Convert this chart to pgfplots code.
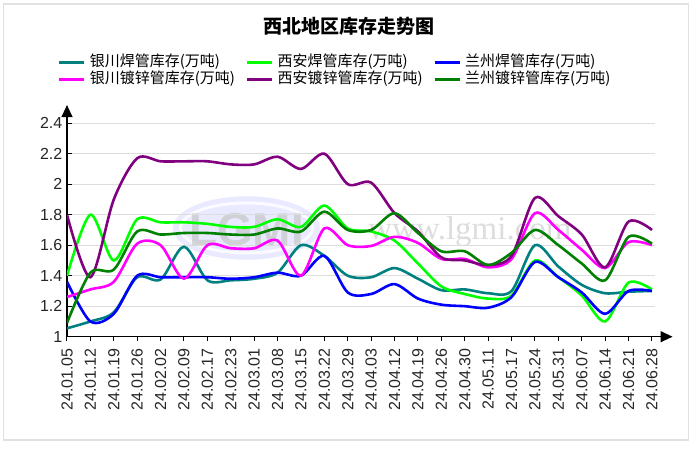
\documentclass[border=0pt]{standalone}
\usepackage{fontspec}
\setmainfont{Liberation Sans}
\newfontfamily\cjk{Noto Sans CJK SC}
\newfontfamily\serifwm{Liberation Serif}
\usepackage{pgfplots}
\usepackage{pgfplotstable}
\pgfplotsset{compat=1.18}
\usetikzlibrary{arrows.meta}

\definecolor{cTeal}{RGB}{0,128,128}
\definecolor{cLime}{RGB}{0,255,0}
\definecolor{cBlue}{RGB}{0,0,255}
\definecolor{cMag}{RGB}{255,0,255}
\definecolor{cPur}{RGB}{128,0,128}
\definecolor{cDkg}{RGB}{0,128,0}
\definecolor{cGrid}{RGB}{221,221,221}
\definecolor{cBorder}{RGB}{225,225,225}

\pgfplotstableread{
i   yct    xat    lzt    ycd    xad    lzd
0   1.055  1.40   1.36   1.26   1.80   1.09
1   1.10   1.80   1.10   1.31   1.39   1.42
2   1.16   1.50   1.15   1.36   1.90   1.44
3   1.39   1.77   1.40   1.61   2.17   1.69
4   1.375  1.75   1.39   1.60   2.15   1.67
5   1.59   1.75   1.39   1.38   2.15   1.68
6   1.37   1.74   1.39   1.60   2.15   1.68
7   1.37   1.72   1.38   1.58   2.13   1.67
8   1.38   1.72   1.39   1.58   2.13   1.67
9   1.42   1.77   1.42   1.63   2.18   1.71
10  1.60   1.72   1.40   1.40   2.10   1.69
11  1.53   1.86   1.53   1.71   2.20   1.82
12  1.40   1.71   1.29   1.60   2.00   1.70
13  1.39   1.69   1.28   1.595  2.01   1.70
14  1.45   1.63   1.345  1.655  1.81   1.81
15  1.38   1.48   1.25   1.615  1.69   1.68
16  1.305  1.33   1.21   1.51   1.52   1.56
17  1.31   1.28   1.20   1.51   1.50   1.56
18  1.285  1.25   1.19   1.455  1.47   1.47
19  1.30   1.27   1.26   1.51   1.53   1.55
20  1.60   1.50   1.49   1.81   1.91   1.70
21  1.46   1.39   1.39   1.70   1.79   1.60
22  1.34   1.27   1.29   1.57   1.67   1.48
23  1.285  1.10   1.15   1.45   1.455  1.37
24  1.295  1.355  1.30   1.62   1.755  1.655
25  1.30   1.31   1.30   1.60   1.70   1.61
}\datatable

\begin{document}
\begin{tikzpicture}
\path[use as bounding box] (0pt,0pt) rectangle (697pt,448pt);
\draw[cBorder, line width=1.5pt] (3.3pt,8pt) rectangle (688.3pt,444pt);
% title
\node[font=\cjk\bfseries\fontsize{19}{22}\selectfont, text=black] at (348.5pt,422pt) {西北地区库存走势图};
% watermark
\fill[blue!12!white, opacity=0.7] (246.5pt,220pt) ellipse [x radius=73.5pt, y radius=31.7pt];
\draw[white, opacity=0.8, line width=3pt] (246.5pt,220pt) ellipse [x radius=66pt, y radius=25pt];
\node[font=\bfseries\fontsize{46}{46}\selectfont, text=gray!45, opacity=0.7] at (246.5pt,218pt) {LGMI};
\node[font=\serifwm\fontsize{33}{33}\selectfont, text=gray!45, opacity=0.6] at (470pt,216pt) {www.lgmi.com};
\begin{axis}[
  scale only axis,
  width=588pt, height=219.6pt,
  at={(67pt,111.3pt)}, anchor=south west,
  xmin=0, xmax=25.13, ymin=1, ymax=2.44,
  axis x line*=bottom, axis y line*=left,
  x axis line style={black, line width=1.3pt, -{Triangle[length=12pt,width=11pt]}, shorten >=-17.5pt},
  y axis line style={black, line width=1.3pt, -{Triangle[length=12pt,width=11pt]}, shorten >=-12pt},
  xtick={0,...,25},
  xticklabels={24.01.05,24.01.12,24.01.19,24.01.26,24.02.02,24.02.09,24.02.17,24.02.23,24.03.01,24.03.08,24.03.15,24.03.22,24.03.29,24.04.03,24.04.12,24.04.19,24.04.26,24.04.30,24.05.11,24.05.17,24.05.24,24.05.31,24.06.07,24.06.14,24.06.21,24.06.28},
  ytick={1,1.2,1.4,1.6,1.8,2,2.2,2.4},
  ymajorgrids,
  grid style={cGrid, line width=1.3pt},
  tick align=outside,
  major tick length=4.5pt,
  tick style={black, line width=1pt},
  ytick style={xshift=5pt},
  /pgf/number format/assume math mode=true,
  ticklabel style={font=\fontsize{16}{16}\selectfont, text=black!85, inner sep=0pt},
  yticklabel style={anchor=east},
  xticklabel style={rotate=90, anchor=east},
  xticklabel shift=7pt,
  legend columns=3,
  legend style={draw=none, fill=none, at={(-0.0158,1.2857)}, anchor=north west,
    inner sep=0pt, column sep=0pt,
    nodes={inner xsep=4pt, inner ysep=1.35pt, text height=11pt, text depth=3pt,
      font=\cjk\fontsize{15}{15}\selectfont, text=black},
    /tikz/every even column/.append style={column sep=6.5pt}},
  legend cell align=left,
  legend image code/.code={\draw[#1, line width=3pt] (0pt,0pt) -- (25pt,0pt);},
  every axis plot/.append style={line width=2.6pt, smooth, no markers},
]
\addplot[cTeal] table[x=i,y=yct] {\datatable};
\addlegendentry{银川焊管库存(万吨)}
\addplot[cLime] table[x=i,y=xat] {\datatable};
\addlegendentry{西安焊管库存(万吨)}
\addplot[cBlue] table[x=i,y=lzt] {\datatable};
\addlegendentry{兰州焊管库存(万吨)}
\addplot[cMag] table[x=i,y=ycd] {\datatable};
\addlegendentry{银川镀锌管库存(万吨)}
\addplot[cPur] table[x=i,y=xad] {\datatable};
\addlegendentry{西安镀锌管库存(万吨)}
\addplot[cDkg] table[x=i,y=lzd] {\datatable};
\addlegendentry{兰州镀锌管库存(万吨)}
\end{axis}
\end{tikzpicture}
\end{document}
